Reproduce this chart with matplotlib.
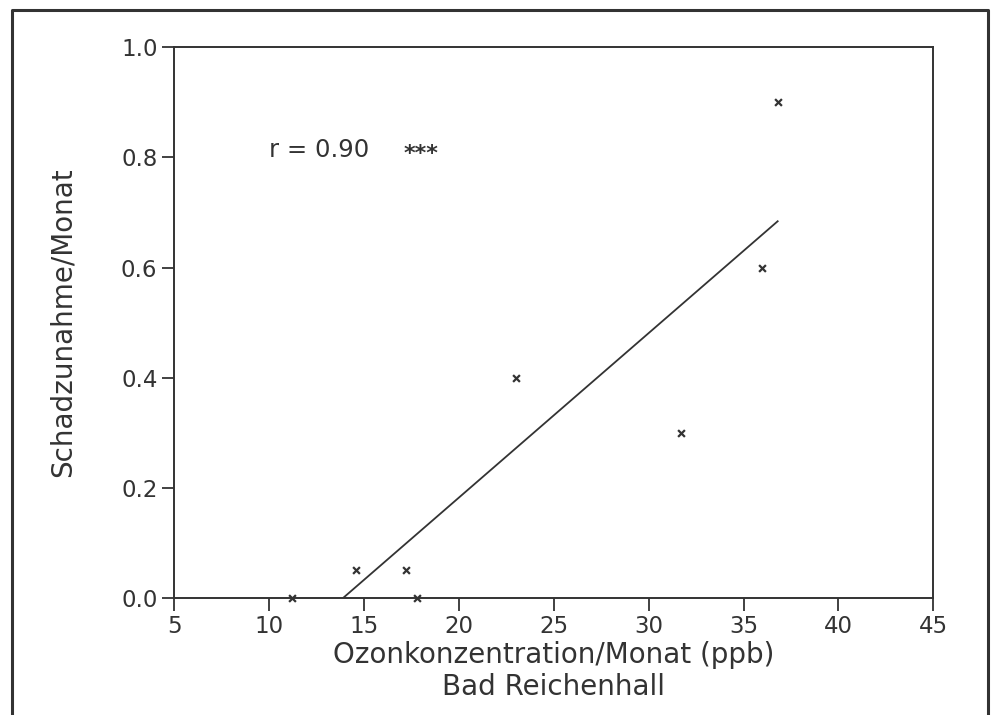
import numpy as np
import matplotlib.pyplot as plt
from matplotlib.lines import Line2D

# Ozone concentration per month (ppb) vs. damage increase per month
ozone = [11.2, 14.6, 17.2, 17.8, 23.0, 31.7, 36.0, 36.8]
damage = [0.0, 0.05, 0.05, 0.0, 0.40, 0.30, 0.60, 0.90]

# regression line end points as drawn
fit_x = [13.9, 36.8]
fit_y = [0.0, 0.684]

x_ticks = [5, 10, 15, 20, 25, 30, 35, 40, 45]
y_ticks = [0.0, 0.2, 0.4, 0.6, 0.8, 1.0]

ink = "#333333"
plt.rcParams["font.family"] = "DejaVu Sans"

fig = plt.figure(figsize=(9.95, 7.15), dpi=100)
ax = fig.add_axes([0.175, 0.1636, 0.763, 0.7704])

ax.plot(fit_x, fit_y, color=ink, linewidth=1.3)
ax.scatter(ozone, damage, marker="x", s=24, color=ink, linewidths=1.6, clip_on=False, zorder=3)

ax.text(10.0, 0.813, "r = 0.90", fontsize=17.5, color=ink, va="center")
ax.text(17.1, 0.806, "***", fontsize=16, color=ink, va="center", fontweight="bold")

ax.set_xlim(5, 45)
ax.set_ylim(0, 1.0)
ax.set_xticks(x_ticks)
ax.set_yticks(y_ticks)
ax.set_yticklabels([f"{v:.1f}" for v in y_ticks])
ax.tick_params(direction="out", length=9, width=1.3, colors=ink, labelsize=16.5)
ax.tick_params(axis="x", pad=3)
ax.tick_params(axis="y", pad=3)
for s in ax.spines.values():
    s.set_color(ink)
    s.set_linewidth(1.4)

ax.set_xlabel("Ozonkonzentration/Monat (ppb)\nBad Reichenhall", fontsize=20, color=ink,
              linespacing=1.2)
ax.xaxis.set_label_coords(0.5, -0.078)
ax.set_ylabel("Schadzunahme/Monat", fontsize=20, color=ink)
ax.yaxis.set_label_coords(-0.128, 0.5)

# outer frame of the scanned figure (bottom edge runs off the page)
x0, x1, y1 = 12 / 995, 988 / 995, 1 - 10 / 715
fig.add_artist(Line2D([x0, x0, x1, x1], [0, y1, y1, 0], transform=fig.transFigure,
                      color=ink, linewidth=2.2))

fig.savefig("out.png", dpi=100)
